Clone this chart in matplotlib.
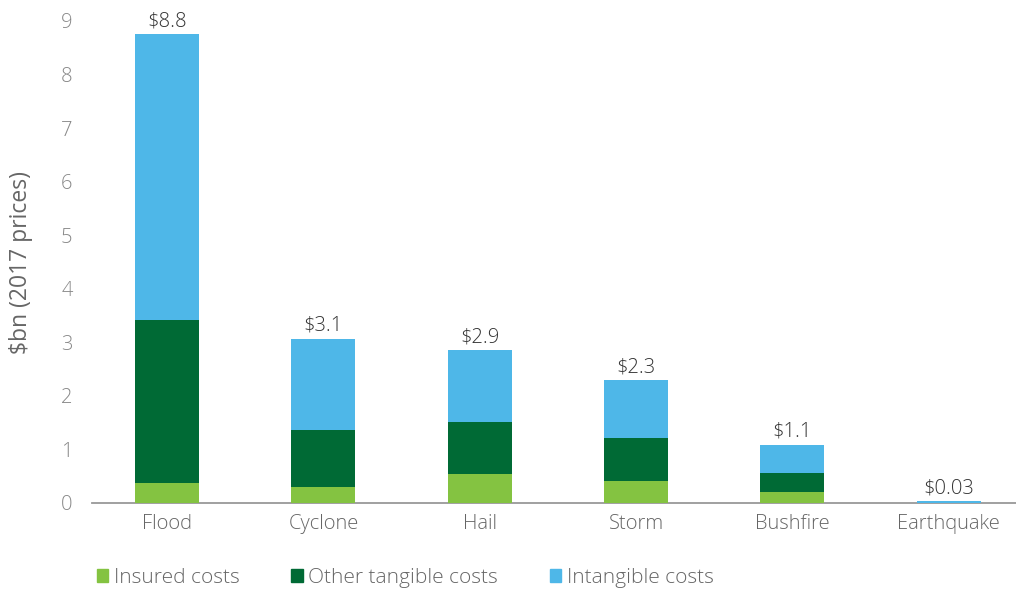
import numpy as np
import matplotlib.pyplot as plt
from matplotlib.patches import Patch

plt.rcParams['font.family'] = ['Open Sans', 'DejaVu Sans']
plt.rcParams['font.weight'] = 'light'

# datos
categorias = ['Flood', 'Cyclone', 'Hail', 'Storm', 'Bushfire', 'Earthquake']
asegurados = [0.37, 0.30, 0.54, 0.41, 0.20, 0.0]
otros_tangibles = [3.05, 1.07, 0.97, 0.80, 0.36, 0.0]
intangibles = [5.33, 1.70, 1.35, 1.09, 0.53, 0.03]
etiquetas = ['$8.8', '$3.1', '$2.9', '$2.3', '$1.1', '$0.03']
yticks = [0, 1, 2, 3, 4, 5, 6, 7, 8, 9]

c_aseg = '#84C341'
c_otros = '#006A35'
c_intang = '#4EB7E8'

x = np.arange(len(categorias))
ancho = 0.41
base2 = np.array(asegurados) + np.array(otros_tangibles)
total = base2 + np.array(intangibles)

fig = plt.figure(figsize=(10.16, 5.9), dpi=100)
ax = fig.add_axes([92 / 1016, 87 / 590, 1 - 92 / 1016, (504 - 22) / 590])

ax.bar(x, asegurados, ancho, color=c_aseg, zorder=3)
ax.bar(x, otros_tangibles, ancho, bottom=asegurados, color=c_otros, zorder=3)
ax.bar(x, intangibles, ancho, bottom=base2, color=c_intang, zorder=3)

for xi, t, lab in zip(x, total, etiquetas):
    ax.annotate(lab.replace('$', r'\$'), (xi, t), xytext=(0, 2), textcoords='offset points',
                ha='center', va='bottom', fontsize=14.5, color='#333333')

ax.set_xlim(-0.48, 5.43)
ax.set_ylim(0, 9)
ax.set_xticks(x)
ax.set_xticklabels(categorias, fontsize=14.5, color='#666666')
ax.set_yticks(yticks)
ax.set_yticklabels([str(v) for v in yticks], fontsize=14.5, color='#888888')
ax.tick_params(length=0)
ax.tick_params(axis='x', pad=8)
ax.tick_params(axis='y', pad=14)
for s in ['top', 'right', 'left']:
    ax.spines[s].set_visible(False)
ax.spines['bottom'].set_color('#999999')
ax.spines['bottom'].set_linewidth(1.3)
ax.set_ylabel(r'\$bn (2017 prices)', fontsize=16.5, color='#666666', labelpad=20)

handles = [Patch(color=c_aseg, label='Insured costs'),
           Patch(color=c_otros, label='Other tangible costs'),
           Patch(color=c_intang, label='Intangible costs')]
leg = fig.legend(handles=handles, loc='lower left', bbox_to_anchor=(0.077, -0.028), ncol=3,
                 frameon=False, fontsize=15, handlelength=0.55, handleheight=0.55,
                 handletextpad=0.25, columnspacing=2.5)
for t in leg.get_texts():
    t.set_color('#666666')

plt.savefig('out.png', dpi=100)
